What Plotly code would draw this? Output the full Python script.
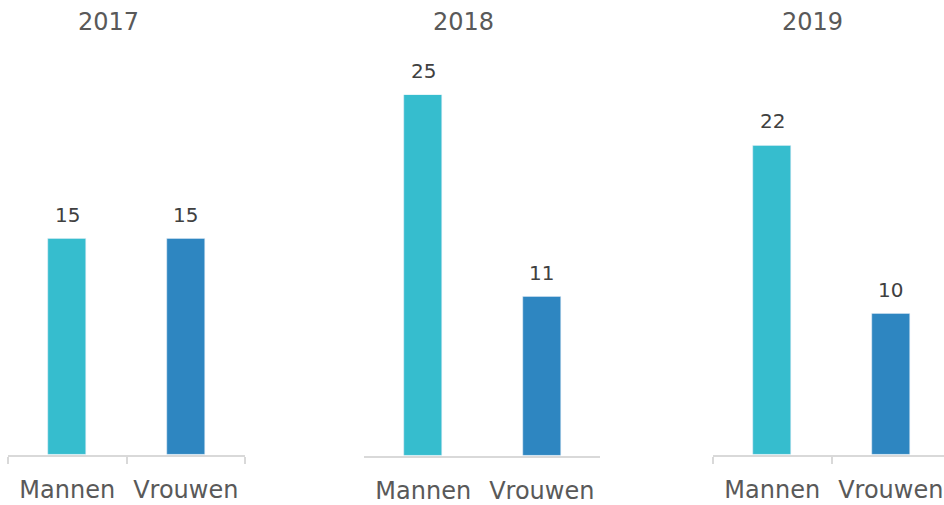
import plotly.graph_objects as go

years = ["2017", "2018", "2019"]
categories = ["Mannen", "Vrouwen"]
values = {
    "2017": [15, 15],
    "2018": [25, 11],
    "2019": [22, 10],
}
bar_colors = ["#36BDCE", "#2E86C1"]

W, H = 944, 505
FONT = "Century Gothic, DejaVu Sans, sans-serif"

x_px = [(8, 245), (364, 600), (713, 944)]
base_px = [461, 462, 461]
top_px = 96
y_top = [25.0, 25.0, 25.6]
show_ticks = [True, False, True]
title_x = [108, 463, 812]

fig = go.Figure()
for i, yr in enumerate(years):
    ax = "" if i == 0 else str(i + 1)
    fig.add_trace(go.Bar(
        x=categories, y=values[yr], marker_color=bar_colors, width=0.32,
        showlegend=False, hoverinfo="x+y",
        xaxis="x" + ax, yaxis="y" + ax,
    ))
    for c, v in zip(categories, values[yr]):
        fig.add_annotation(
            x=c, y=v, xref="x" + ax, yref="y" + ax, text=str(v),
            showarrow=False, yanchor="middle", xanchor="center", yshift=24,
            font=dict(size=20, color="#404040", family=FONT),
        )
    l, r = x_px[i]
    cat_w = (x_px[0][1] - x_px[0][0]) / 2
    span = (r - l) / cat_w
    dom_x = [l / W, r / W]
    dom_y = [(H - base_px[i]) / H, (H - top_px) / H]
    fig.update_layout(**{
        "xaxis" + ax: dict(
            domain=dom_x, range=[-0.5, -0.5 + span], type="category",
            showline=True, linecolor="#D9D9D9", linewidth=2,
            ticks="outside" if show_ticks[i] else "", tickson="boundaries",
            ticklen=7, tickwidth=2, tickcolor="#D9D9D9",
            tickfont=dict(size=24, color="#595959", family=FONT),
            ticklabelstandoff=13,
            showgrid=False, zeroline=False,
            anchor="y" + ax, fixedrange=True,
        ),
        "yaxis" + ax: dict(
            domain=dom_y, range=[0, y_top[i]], visible=False,
            showgrid=False, zeroline=False, anchor="x" + ax,
        ),
    })
    fig.add_annotation(
        text=yr, x=title_x[i] / W, y=(H - 22) / H,
        xref="paper", yref="paper", showarrow=False,
        font=dict(size=24, color="#595959", family=FONT),
        xanchor="center", yanchor="middle",
    )

fig.update_layout(
    width=W, height=H, margin=dict(l=0, r=0, t=0, b=0),
    plot_bgcolor="white", paper_bgcolor="white", bargap=0,
)
fig.write_html(
    "out.html",
    config={"displayModeBar": False},
    post_script="document.body.style.margin='0';document.body.style.overflow='hidden';",
)
